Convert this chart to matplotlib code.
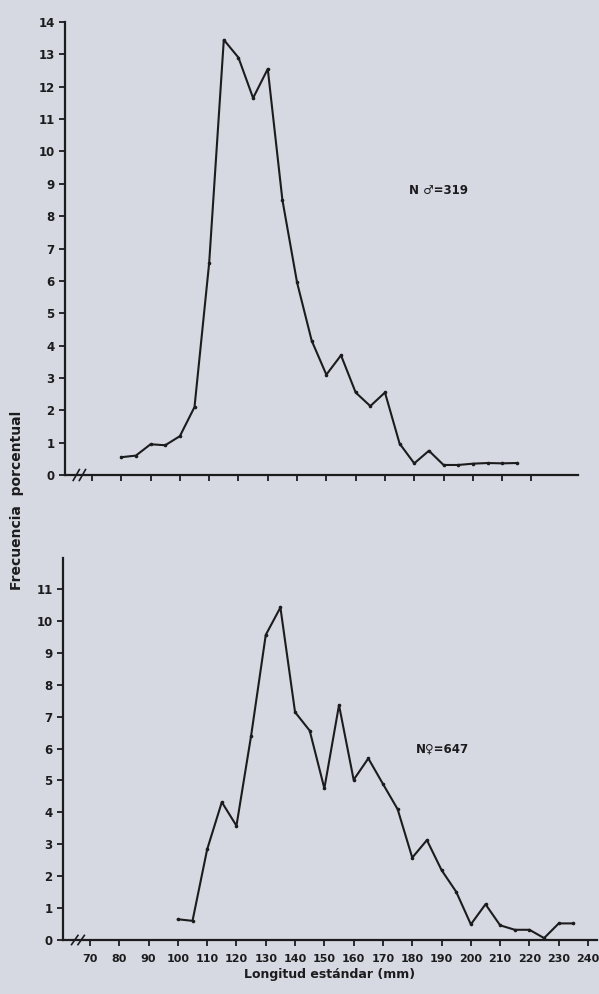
import numpy as np
import matplotlib.pyplot as plt

# longitud estandar (mm), centros de clase cada 5 mm
long_machos = [80, 85, 90, 95, 100, 105, 110, 115, 120, 125, 130, 135, 140, 145,
               150, 155, 160, 165, 170, 175, 180, 185, 190, 195, 200, 205, 210, 215]
frec_machos = [0.55, 0.6, 0.95, 0.92, 1.2, 2.1, 6.55, 13.45, 12.9, 11.65, 12.55, 8.5,
               5.95, 4.15, 3.1, 3.7, 2.55, 2.13, 2.55, 0.97, 0.36, 0.75, 0.31, 0.31,
               0.35, 0.37, 0.36, 0.37]

long_hembras = [100, 105, 110, 115, 120, 125, 130, 135, 140, 145, 150, 155, 160, 165,
                170, 175, 180, 185, 190, 195, 200, 205, 210, 215, 220, 225, 230, 235]
frec_hembras = [0.65, 0.6, 2.84, 4.32, 3.58, 6.4, 9.56, 10.42, 7.14, 6.56, 4.75, 7.36,
                5.02, 5.69, 4.89, 4.1, 2.58, 3.13, 2.19, 1.51, 0.49, 1.12, 0.46, 0.32,
                0.32, 0.06, 0.52, 0.52]

ticks_sup = list(range(70, 230, 10))
ticks_inf = list(range(70, 250, 10))

fondo = '#d7d9e2'
tinta = '#1c1c1e'

plt.rcParams['font.family'] = 'DejaVu Sans'

fig = plt.figure(figsize=(5.99, 9.94), dpi=100)
fig.patch.set_facecolor(fondo)

W, H = 599, 994
px_mm = 2.93
x0 = 60.8


def ejes(izq, der, abajo, arriba):
    ax = fig.add_axes([izq / W, (H - abajo) / H, (der - izq) / W, (abajo - arriba) / H])
    ax.set_facecolor(fondo)
    for s in ['top', 'right']:
        ax.spines[s].set_visible(False)
    for s in ['left', 'bottom']:
        ax.spines[s].set_color(tinta)
        ax.spines[s].set_linewidth(1.6)
    ax.set_xlim(x0, x0 + (der - izq) / px_mm)
    ax.tick_params(colors=tinta, width=1.3, length=4, labelsize=8.5)
    # marcas de corte del eje x
    for dx in (0.022, 0.034):
        ax.plot([dx - 0.006, dx + 0.006], [-0.012, 0.012], transform=ax.transAxes,
                color=tinta, lw=1.2, clip_on=False)
    return ax


ax1 = ejes(65, 578, 475, 22)
ax1.plot(long_machos, frec_machos, color=tinta, lw=1.5, marker='o', ms=1.6)
ax1.set_ylim(0, 14)
ax1.set_yticks(range(0, 15))
ax1.set_xticks(ticks_sup)
ax1.set_xticklabels([])
for t in ax1.get_yticklabels():
    t.set_fontweight('bold')
ax1.text(0.67, 0.62, 'N \u2642=319', transform=ax1.transAxes, fontsize=8.5,
         fontweight='bold', color=tinta)

ax2 = ejes(63, 597, 940, 558)
ax2.plot(long_hembras, frec_hembras, color=tinta, lw=1.5, marker='o', ms=1.6)
ax2.set_ylim(0, 11.97)
ax2.set_yticks(range(0, 12))
ax2.set_xticks(ticks_inf)
ax2.set_xticklabels([str(v) for v in ticks_inf], fontweight='bold', fontsize=8)
ax2.tick_params(axis='x', pad=6)
for t in ax2.get_yticklabels():
    t.set_fontweight('bold')
ax2.text(0.66, 0.49, 'N\u2640=647', transform=ax2.transAxes, fontsize=8.5,
         fontweight='bold', color=tinta)
ax2.set_xlabel('Longitud est\u00e1ndar (mm)', fontsize=9, fontweight='bold',
               color=tinta, labelpad=3)

fig.text(17 / W, (H - 500) / H, 'Frecuencia  porcentual', rotation=90, ha='center',
         va='center', fontsize=10, fontweight='bold', color=tinta)

fig.savefig('out.png', dpi=100, facecolor=fondo)
